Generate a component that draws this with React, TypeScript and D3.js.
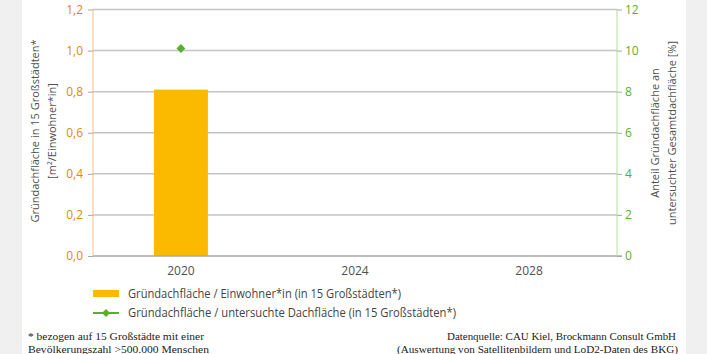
import React, { useEffect, useRef } from 'react';
import * as d3 from 'd3';

// data
const years = ['2020', '2024', '2028'];
const areaPerResident = [{ year: '2020', value: 0.81 }]; // m² / Einwohner*in
const shareOfRoof = [{ year: '2020', value: 10.1 }]; // %
const leftTicks = [0, 0.2, 0.4, 0.6, 0.8, 1.0, 1.2];
const rightTicks = [0, 2, 4, 6, 8, 10, 12];

const legendLabels = [
  'Gründachfläche / Einwohner*in (in 15 Großstädten*)',
  'Gründachfläche / untersuchte Dachfläche (in 15 Großstädten*)',
];
const footLeft = ['* bezogen auf 15 Großstädte mit einer', 'Bevölkerungszahl >500.000 Menschen'];
const footRight = [
  'Datenquelle: CAU Kiel, Brockmann Consult GmbH',
  '(Auswertung von Satellitenbildern und LoD2-Daten des BKG)',
];

const ORANGE = '#fbb900';
const ORANGE_TXT = '#df8a00';
const GREEN = '#5aae2e';
const GRAY_TXT = '#505050';
const SANS = '"Open Sans", "Noto Sans", sans-serif';
const SERIF = '"Liberation Serif", "DejaVu Serif", serif';

const App = () => {
  const svgRef = useRef<SVGSVGElement | null>(null);

  useEffect(() => {
    const W = 707, H = 354;
    const svg = d3.select(svgRef.current).attr('width', W).attr('height', H);
    svg.selectAll('*').remove();

    // page background + white panel
    svg.append('rect').attr('width', W).attr('height', H).attr('fill', '#f0f0f0');
    svg.append('rect').attr('x', 22).attr('width', 664).attr('height', H).attr('fill', '#fff');

    const left = 93, right = 617, top = 9.5, bottom = 256;

    const x = d3.scaleBand().domain(years).range([left, right]).paddingInner(0.69).paddingOuter(0.35);
    const yL = d3.scaleLinear().domain([0, 1.2]).range([bottom, top]);
    const yR = d3.scaleLinear().domain([0, 12]).range([bottom, top]);

    // grid
    svg.append('g')
      .selectAll('line')
      .data(leftTicks.slice(1))
      .join('line')
      .attr('x1', left).attr('x2', right)
      .attr('y1', d => yL(d)).attr('y2', d => yL(d))
      .attr('stroke', '#c4c4c4').attr('stroke-width', 1.5);

    // bars
    svg.append('g')
      .selectAll('rect')
      .data(areaPerResident)
      .join('rect')
      .attr('x', d => x(d.year)!)
      .attr('width', x.bandwidth())
      .attr('y', d => yL(d.value))
      .attr('height', d => bottom - yL(d.value))
      .attr('fill', ORANGE);

    // baseline
    svg.append('line')
      .attr('x1', left).attr('x2', right + 5)
      .attr('y1', bottom).attr('y2', bottom)
      .attr('stroke', '#a8a8a8').attr('stroke-width', 1.5);

    // left axis
    const axL = svg.append('g').attr('transform', `translate(${left},0)`)
      .call(d3.axisLeft(yL).tickValues(leftTicks).tickSize(5).tickPadding(5)
        .tickFormat(d => d3.format('.1f')(d as number).replace('.', ',')));
    axL.select('.domain').attr('stroke', '#f5c27a').attr('d', `M0,${top}V${bottom}`);
    axL.selectAll('.tick line').attr('stroke', '#a8a8a8');
    axL.selectAll('text').attr('fill', ORANGE_TXT).style('font-family', SANS).style('font-size', '12px');

    // right axis
    const axR = svg.append('g').attr('transform', `translate(${right},0)`)
      .call(d3.axisRight(yR).tickValues(rightTicks).tickSize(5).tickPadding(3));
    axR.select('.domain').attr('stroke', '#b9dca5').attr('d', `M0,${top}V${bottom}`);
    axR.selectAll('.tick line').attr('stroke', '#a8a8a8');
    axR.selectAll('text').attr('fill', GREEN).style('font-family', SANS).style('font-size', '12px');

    // x labels
    svg.append('g')
      .selectAll('text')
      .data(years)
      .join('text')
      .attr('x', d => x(d)! + x.bandwidth() / 2)
      .attr('y', 275)
      .attr('text-anchor', 'middle')
      .attr('fill', GRAY_TXT)
      .style('font-family', SANS).style('font-size', '12px')
      .text(d => d);

    // green series
    const line = d3.line<{ year: string; value: number }>()
      .x(d => x(d.year)! + x.bandwidth() / 2)
      .y(d => yR(d.value));
    svg.append('path').datum(shareOfRoof).attr('d', line).attr('fill', 'none')
      .attr('stroke', GREEN).attr('stroke-width', 2);
    svg.append('g')
      .selectAll('path')
      .data(shareOfRoof)
      .join('path')
      .attr('d', d3.symbol().type(d3.symbolDiamond2).size(50))
      .attr('transform', d => `translate(${x(d.year)! + x.bandwidth() / 2},${yR(d.value)})`)
      .attr('fill', GREEN);

    // axis titles
    const titleL = svg.append('text')
      .attr('transform', 'translate(0,131) rotate(-90)')
      .attr('text-anchor', 'middle')
      .attr('fill', GRAY_TXT)
      .style('font-family', SANS).style('font-size', '11px');
    titleL.append('tspan').attr('x', 0).attr('y', 39).text('Gründachfläche in 15 Großstädten*');
    titleL.append('tspan').attr('x', 0).attr('y', 56).text('[m²/Einwohner*in]');

    const titleR = svg.append('text')
      .attr('transform', 'translate(0,133) rotate(-90)')
      .attr('text-anchor', 'middle')
      .attr('fill', GRAY_TXT)
      .style('font-family', SANS).style('font-size', '11px');
    titleR.append('tspan').attr('x', 0).attr('y', 659).text('Anteil Gründachfläche an');
    titleR.append('tspan').attr('x', 0).attr('y', 676).text('untersuchter Gesamtdachfläche [%]');

    // legend
    const lg = svg.append('g');
    lg.append('rect').attr('x', 93).attr('y', 290).attr('width', 26).attr('height', 7).attr('fill', ORANGE);
    lg.append('line').attr('x1', 93).attr('x2', 119).attr('y1', 313).attr('y2', 313)
      .attr('stroke', GREEN).attr('stroke-width', 2);
    lg.append('path').attr('d', d3.symbol().type(d3.symbolDiamond2).size(40))
      .attr('transform', 'translate(106,313)').attr('fill', GREEN);
    lg.selectAll('text.lab')
      .data(legendLabels)
      .join('text')
      .attr('class', 'lab')
      .attr('x', 128)
      .attr('y', (d, i) => 298 + i * 19)
      .attr('fill', '#444')
      .attr('textLength', (d, i) => (i === 0 ? 273 : 328))
      .attr('lengthAdjust', 'spacingAndGlyphs')
      .style('font-family', SANS).style('font-size', '12px')
      .text(d => d);

    // footer
    svg.append('g')
      .selectAll('text')
      .data(footLeft)
      .join('text')
      .attr('x', 28)
      .attr('y', (d, i) => 340 + i * 12.5)
      .attr('textLength', (d, i) => (i === 0 ? 176 : 181))
      .attr('lengthAdjust', 'spacingAndGlyphs')
      .attr('fill', '#222')
      .style('font-family', SERIF).style('font-size', '11px')
      .text(d => d);
    svg.append('g')
      .selectAll('text')
      .data(footRight)
      .join('text')
      .attr('x', d => (d.startsWith('(') ? 397 : 447))
      .attr('y', (d, i) => 340 + i * 12.5)
      .attr('textLength', (d, i) => (i === 0 ? 229 : 281))
      .attr('lengthAdjust', 'spacingAndGlyphs')
      .attr('fill', '#222')
      .style('font-family', SERIF).style('font-size', '11px')
      .text(d => d);
  }, []);

  return (
    <div style={{ position: 'absolute', left: 0, top: 0 }}>
      <svg ref={svgRef}></svg>
    </div>
  );
};

export default App;
